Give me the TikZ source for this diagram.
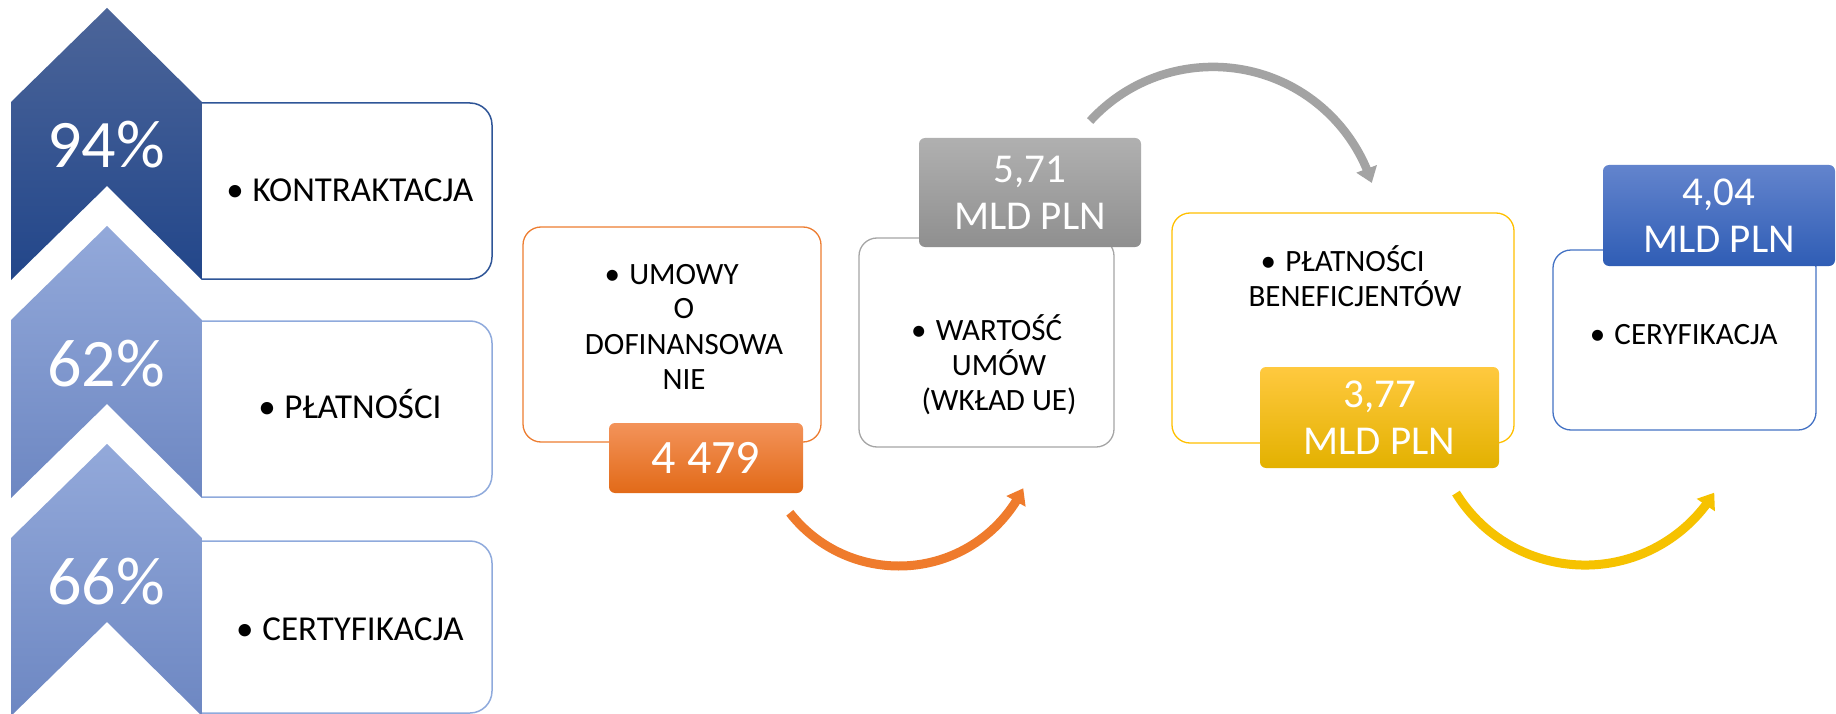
\documentclass[tikz,border=0pt]{standalone}
\usepackage{fontspec}
\setmainfont{Carlito}
\usetikzlibrary{arrows.meta,bending}
\definecolor{chevDarkTop}{HTML}{4C6599}
\definecolor{chevDarkBot}{HTML}{22468A}
\definecolor{chevLightTop}{HTML}{93A9DA}
\definecolor{chevLightBot}{HTML}{6D87C2}
\definecolor{boxDark}{HTML}{2F5597}
\definecolor{boxLight}{HTML}{8FAADC}
\definecolor{orangeC}{HTML}{ED7D31}
\definecolor{grayC}{HTML}{A5A5A5}
\definecolor{yellowC}{HTML}{FFC000}
\definecolor{blueC}{HTML}{4472C4}
\definecolor{orTop}{HTML}{F3935A}
\definecolor{orMid}{HTML}{F07C2E}
\definecolor{orBot}{HTML}{E26A18}
\definecolor{grTop}{HTML}{B0B0B0}
\definecolor{grBot}{HTML}{8F8F8F}
\definecolor{yeTop}{HTML}{FFC93F}
\definecolor{yeMid}{HTML}{FFC000}
\definecolor{yeBot}{HTML}{E3B100}
\definecolor{blTop}{HTML}{6384CD}
\definecolor{blMid}{HTML}{4472C4}
\definecolor{blBot}{HTML}{2F5DB5}
\definecolor{orArr}{HTML}{EF7B2C}
\definecolor{grArr}{HTML}{A3A3A3}
\definecolor{yeArr}{HTML}{F6C200}
\begin{document}
\begin{tikzpicture}[x=1pt,y=-1pt,
  leftbox/.style={line width=1.5pt, rounded corners=22pt},
  midbox/.style={draw, fill=white, line width=1.3pt, rounded corners=18pt, inner sep=0pt},
  lbl/.style={rounded corners=6pt, inner sep=0pt, text=white, align=center, font=\fontsize{41}{47}\selectfont},
  pct/.style={anchor=base, text=white, font=\fontsize{68}{80}\selectfont, inner sep=0pt},
  ltxt/.style={anchor=base, font=\fontsize{35}{42}\selectfont, inner sep=0pt},
  mtxt/.style={anchor=base, font=\fontsize{31}{35}\selectfont, inner sep=0pt},
  arr/.style={line width=9pt, -{Triangle[length=15pt,width=21pt]}},
]
\useasboundingbox (0,0) rectangle (1836,714);
\fill[white] (0,0) rectangle (1836,714);

% left boxes
\draw[leftbox, draw=boxDark] (202,103) -- (492,103) -- (492,279) -- (202,279);
\draw[leftbox, draw=boxLight] (202,321) -- (492,321) -- (492,497) -- (202,497);
\draw[leftbox, draw=boxLight] (202,541) -- (492,541) -- (492,713) -- (202,713);

% chevrons
\shade[top color=chevDarkTop, bottom color=chevDarkBot] (11,102) -- (107,8) -- (202,102) -- (202,280) -- (107,186) -- (11,280) -- cycle;
\shade[top color=chevLightTop, bottom color=chevLightBot] (11,320) -- (107,226) -- (202,320) -- (202,498) -- (107,404) -- (11,498) -- cycle;
\shade[top color=chevLightTop, bottom color=chevLightBot] (11,538) -- (107,444) -- (202,538) -- (202,716) -- (107,622) -- (11,716) -- cycle;

\node[pct] (p94) at (106,168) {94\%};
\node[pct] (p62) at (106,386) {62\%};
\node[pct] (p66) at (106,604) {66\%};

\node[ltxt] (kontr) at (363,202) {\llap{•\hspace{0.25em}}KONTRAKTACJA};
\node[ltxt] (plat) at (363,418) {\llap{•\hspace{0.25em}}PŁATNOŚCI};
\node[ltxt] (cert) at (363,640) {\llap{•\hspace{0.25em}}CERTYFIKACJA};

% arrows
\coordinate (oa) at (789.8,512.8);
\draw[arr, orArr] (oa) arc[start angle=142, end angle=26, radius=138.4];
\coordinate (ga) at (1090.1,121);
\draw[arr, grArr, line width=8.5pt] (ga) arc[start angle=-137.5, end angle=-17.7, radius=166.7];
\coordinate (ya) at (1456,493.1);
\draw[arr, yeArr] (ya) arc[start angle=148.3, end angle=31.5, radius=151.6];

% middle boxes
\node[midbox, draw=orangeC, minimum width=298pt, minimum height=215pt] (umowy) at (672,334.5) {};
\node[midbox, draw=grayC, minimum width=255pt, minimum height=209pt] (wart) at (986.5,342.5) {};
\node[midbox, draw=yellowC, minimum width=342pt, minimum height=230pt] (platb) at (1343,328) {};
\node[midbox, draw=blueC, minimum width=263pt, minimum height=180pt] (ceryf) at (1684.5,340) {};

% labels
\node[lbl, top color=orTop, middle color=orMid, bottom color=orBot, minimum width=194pt, minimum height=70pt, font=\fontsize{48}{56}\selectfont] (l1) at (706,458) {4 479};
\node[lbl, top color=grTop, bottom color=grBot, minimum width=222pt, minimum height=109pt] (l2) at (1030,192.5) {5,71\\MLD PLN};
\node[lbl, top color=yeTop, middle color=yeMid, bottom color=yeBot, minimum width=239pt, minimum height=101pt] (l3) at (1379.5,417.5) {3,77\\MLD PLN};
\node[lbl, top color=blTop, middle color=blMid, bottom color=blBot, minimum width=232pt, minimum height=101pt] (l4) at (1719,215.5) {4,04\\MLD PLN};

% middle texts
\node[mtxt] (u1) at (684,284) {\llap{•\hspace{0.3em}}UMOWY};
\node[mtxt] (u2) at (684,318) {O};
\node[mtxt] (u3) at (684,354) {DOFINANSOWA};
\node[mtxt] (u4) at (684,389) {NIE};
\node[mtxt] (w1) at (999,340) {\llap{•\hspace{0.3em}}WARTOŚĆ};
\node[mtxt] (w2) at (999,375) {UMÓW};
\node[mtxt] (w3) at (999,410) {(WKŁAD UE)};
\node[mtxt] (b1) at (1355,271) {\llap{•\hspace{0.3em}}PŁATNOŚCI};
\node[mtxt] (b2) at (1355,306) {BENEFICJENTÓW};
\node[mtxt] (c1) at (1696,344) {\llap{•\hspace{0.3em}}CERYFIKACJA};
\end{tikzpicture}
\end{document}
